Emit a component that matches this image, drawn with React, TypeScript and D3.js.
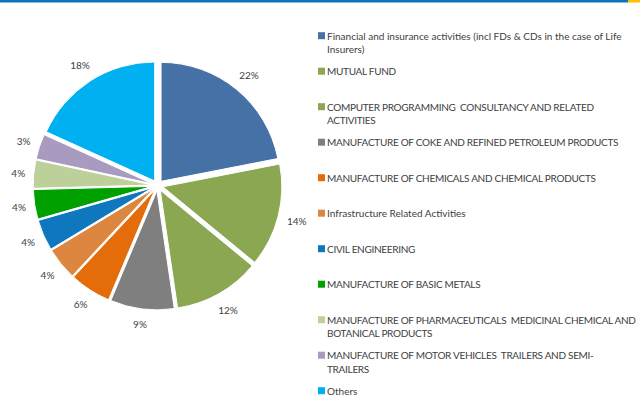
import * as d3 from 'd3'
import React, { useEffect, useRef } from 'react'

// sector shares (%)
const sectors = [
  'Financial and insurance activities (incl FDs & CDs in the case of Life Insurers)',
  'MUTUAL FUND',
  'COMPUTER PROGRAMMING  CONSULTANCY AND RELATED ACTIVITIES',
  'MANUFACTURE OF COKE AND REFINED PETROLEUM PRODUCTS',
  'MANUFACTURE OF CHEMICALS AND CHEMICAL PRODUCTS',
  'Infrastructure Related Activities',
  'CIVIL ENGINEERING',
  'MANUFACTURE OF BASIC METALS',
  'MANUFACTURE OF PHARMACEUTICALS  MEDICINAL CHEMICAL AND BOTANICAL PRODUCTS',
  'MANUFACTURE OF MOTOR VEHICLES  TRAILERS AND SEMI-TRAILERS',
  'Others',
]
const shares = [21.9, 14.0, 11.7, 8.65, 5.6, 4.4, 4.2, 4.0, 3.8, 3.4, 18.2]
const labels = ['22%', '14%', '12%', '9%', '6%', '4%', '4%', '4%', '4%', '3%', '18%']
const colors = [
  '#4671A6', '#8BA752', '#8BA752', '#7F7F7F', '#E46C0A', '#DD863F',
  '#0F77BE', '#00A000', '#BDD099', '#A99BBF', '#00B0F0',
]
// where the legend text wraps
const legendLines = [
  ['Financial and insurance activities (incl FDs & CDs in the case of Life', 'Insurers)'],
  ['MUTUAL FUND'],
  ['COMPUTER PROGRAMMING  CONSULTANCY AND RELATED', 'ACTIVITIES'],
  ['MANUFACTURE OF COKE AND REFINED PETROLEUM PRODUCTS'],
  ['MANUFACTURE OF CHEMICALS AND CHEMICAL PRODUCTS'],
  ['Infrastructure Related Activities'],
  ['CIVIL ENGINEERING'],
  ['MANUFACTURE OF BASIC METALS'],
  ['MANUFACTURE OF PHARMACEUTICALS  MEDICINAL CHEMICAL AND', 'BOTANICAL PRODUCTS'],
  ['MANUFACTURE OF MOTOR VEHICLES  TRAILERS AND SEMI-', 'TRAILERS'],
  ['Others'],
]

const W = 640
const H = 416
const cx = 157.6
const cy = 185.5
const R = 119
const explode = 5.4
const font = 'Lato, "Open Sans", sans-serif'

// Lato capitals run wider than the original's font, so tighten all-caps lines
const isCaps = (s: string) => s === s.toUpperCase()

export default function App() {
  const ref = useRef<SVGSVGElement>(null)

  useEffect(() => {
    const svg = d3.select(ref.current)
    svg.selectAll('*').remove()

    // top rule
    svg.append('rect').attr('x', 0).attr('y', 0).attr('width', 628).attr('height', 2.5).attr('fill', '#0A76BB')
    svg.append('rect').attr('x', 628).attr('y', 0).attr('width', 12).attr('height', 2.5).attr('fill', '#FFC000')

    const pie = d3.pie<number>().sort(null).value(d => d)
    const arcs = pie(shares)
    const arc = d3.arc<d3.PieArcDatum<number>>().innerRadius(0).outerRadius(R)

    const g = svg.append('g').attr('transform', `translate(${cx},${cy})`)
    const mid = (d: d3.PieArcDatum<number>) => (d.startAngle + d.endAngle) / 2
    const slice = g.selectAll('g.slice').data(arcs).join('g')
      .attr('class', 'slice')
      .attr('transform', d => `translate(${explode * Math.sin(mid(d))},${-explode * Math.cos(mid(d))})`)

    slice.append('path')
      .attr('d', arc)
      .attr('fill', (d, i) => colors[i])
      .attr('stroke', '#fff')
      .attr('stroke-width', 1)

    // label box sits a fixed gap outside the rim
    slice.append('text')
      .attr('transform', (d, i) => {
        const a = mid(d)
        const s = Math.sin(a), c = Math.cos(a)
        const w = labels[i].length * 6
        const ext = Math.abs(s) * w / 2 + Math.abs(c) * 6
        const r = R + 9 + ext
        return `translate(${r * s},${-r * c})`
      })
      .attr('text-anchor', 'middle')
      .attr('dominant-baseline', 'central')
      .attr('font-family', font)
      .attr('font-size', 10)
      .attr('fill', '#404040')
      .text((d, i) => labels[i])

    // legend
    const y = d3.scaleLinear().domain([0, sectors.length - 1]).range([35.7, 390.7])
    const leg = svg.append('g').selectAll('g').data(sectors).join('g')
      .attr('transform', (d, i) => `translate(318,${y(i)})`)
    leg.append('rect')
      .attr('x', 0).attr('y', -3.5).attr('width', 7).attr('height', 7)
      .attr('fill', (d, i) => colors[i])
    leg.append('text')
      .attr('font-family', font)
      .attr('font-size', 10)
      .attr('fill', '#404040')
      .style('white-space', 'pre')
      .selectAll('tspan')
      .data((d, i) => legendLines[i])
      .join('tspan')
      .attr('x', 9)
      .attr('y', (d, j) => j * 13.4)
      .attr('dominant-baseline', 'central')
      .attr('letter-spacing', d => (isCaps(d) ? -0.3 : 0))
      .text(d => d)
  }, [])

  return (
    <svg ref={ref} width={W} height={H} viewBox={`0 0 ${W} ${H}`}
      style={{ position: 'absolute', left: 0, top: 0, background: '#fff' }} />
  )
}
